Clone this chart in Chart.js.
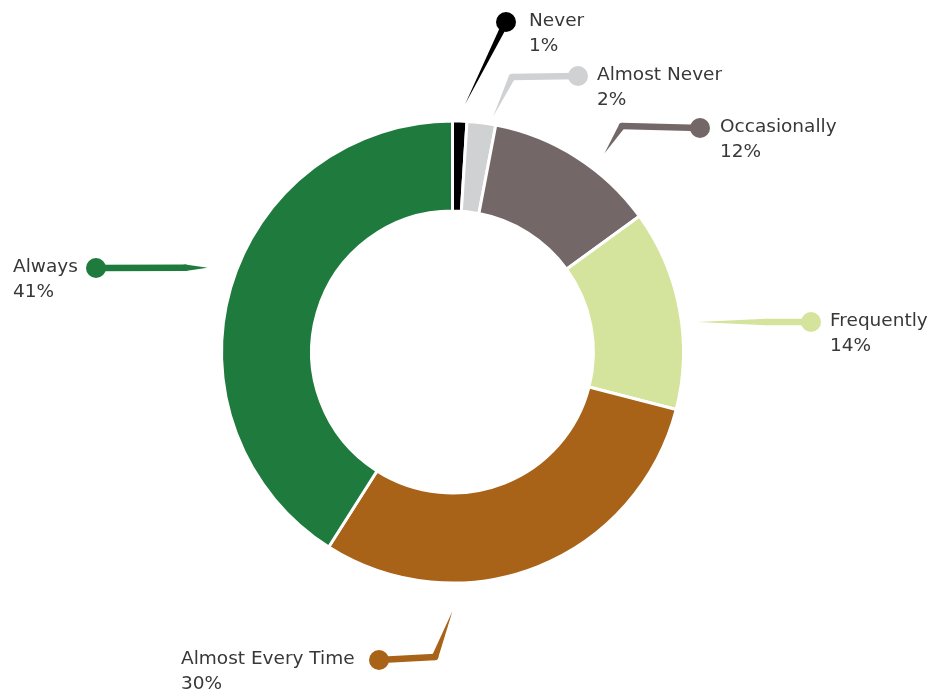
<!DOCTYPE html>
<html><head><meta charset="utf-8">
<script src="https://cdn.jsdelivr.net/npm/chart.js@4"></script>
<style>html,body{margin:0;padding:0;background:#fff}canvas{display:block}</style>
</head><body>
<canvas id="c" width="950" height="692"></canvas>
<script>
// ---- data ----
const categories = ['Never', 'Almost Never', 'Occasionally', 'Frequently', 'Almost Every Time', 'Always'];
const percentages = [1, 2, 12, 14, 30, 41];
const sliceColors = ['#000000', '#d0d1d3', '#736767', '#d4e49c', '#a86318', '#1e7b3d'];

// ---- callout layout (offsets relative to chart centre; not data) ----
const calloutLayout = [
  { nudge: 1.1, gap: 17, elbow: null, taper: 1.0, dot: [53.5, -330], textX: 23 },
  { nudge: 2.6, gap: 8,  elbow: [59.5, -275], taper: 1, dot: [125.5, -276], textX: 19 },
  { nudge: 5.0, gap: 19, elbow: [169.5, -226], taper: 1, dot: [247.5, -224], textX: 20 },
  { nudge: 3.8, gap: 16, elbow: null, taper: 0.6, dot: [358.5, -30], textX: 19 },
  { nudge: 21.6, gap: 28, elbow: [-17.5, 305], taper: 1, dot: [-73.5, 308], textX: -198 },
  { nudge: 2.8, gap: 28, elbow: null, taper: 0.2, dot: [-356.5, -84], textX: -83 }
];
const FONT = '18.5px "DejaVu Sans"';
const TEXT_COLOR = '#383838';
const LINE_W = 6.5;
const DOT_R = 10;

const calloutPlugin = {
  id: 'callouts',
  afterDatasetsDraw(chart) {
    const ctx = chart.ctx;
    const meta = chart.getDatasetMeta(0);
    const total = percentages.reduce((s, v) => s + v, 0);
    meta.data.forEach((arc, i) => {
      const L = calloutLayout[i];
      const p = arc.getProps(['x', 'y', 'startAngle', 'endAngle', 'outerRadius'], true);
      const cx = p.x, cy = p.y;
      const a = (p.startAngle + p.endAngle) / 2 + L.nudge * Math.PI / 180;
      const r = p.outerRadius + L.gap;
      const tip = [cx + Math.cos(a) * r, cy + Math.sin(a) * r];
      const dot = [cx + L.dot[0], cy + L.dot[1]];
      let next;
      if (L.elbow) next = [cx + L.elbow[0], cy + L.elbow[1]];
      else next = [tip[0] + (dot[0] - tip[0]) * L.taper, tip[1] + (dot[1] - tip[1]) * L.taper];
      const col = sliceColors[i];
      ctx.save();
      ctx.fillStyle = col;
      ctx.strokeStyle = col;
      const dx = next[0] - tip[0], dy = next[1] - tip[1];
      const len = Math.hypot(dx, dy) || 1;
      const nx = -dy / len * LINE_W / 2, ny = dx / len * LINE_W / 2;
      ctx.beginPath();
      ctx.moveTo(tip[0], tip[1]);
      ctx.lineTo(next[0] + nx, next[1] + ny);
      ctx.lineTo(next[0] - nx, next[1] - ny);
      ctx.closePath();
      ctx.fill();
      if (Math.hypot(dot[0] - next[0], dot[1] - next[1]) > 0.5) {
        ctx.lineWidth = LINE_W;
        ctx.lineCap = 'butt';
        ctx.beginPath();
        ctx.moveTo(next[0], next[1]);
        ctx.lineTo(dot[0], dot[1]);
        ctx.stroke();
        ctx.beginPath();
        ctx.arc(next[0], next[1], LINE_W / 2, 0, Math.PI * 2);
        ctx.fill();
      }
      ctx.beginPath();
      ctx.arc(dot[0], dot[1], DOT_R, 0, Math.PI * 2);
      ctx.fill();
      ctx.font = FONT;
      ctx.fillStyle = TEXT_COLOR;
      ctx.textAlign = 'left';
      ctx.textBaseline = 'middle';
      const tx = dot[0] + L.textX;
      ctx.fillText(categories[i], tx, dot[1] - 1);
      ctx.fillText(Math.round(percentages[i] / total * 100) + '%', tx, dot[1] + 24);
      ctx.restore();
    });
  }
};

new Chart(document.getElementById('c'), {
  type: 'doughnut',
  data: {
    labels: categories,
    datasets: [{
      data: percentages,
      backgroundColor: sliceColors,
      borderColor: '#ffffff',
      borderWidth: 3,
      hoverOffset: 0
    }]
  },
  options: {
    responsive: false,
    animation: false,
    cutout: '61%',
    layout: { padding: { left: 220, right: 265, top: 119.5, bottom: 107.5 } },
    plugins: { legend: { display: false }, tooltip: { enabled: false } }
  },
  plugins: [calloutPlugin]
});
</script>
</body></html>
